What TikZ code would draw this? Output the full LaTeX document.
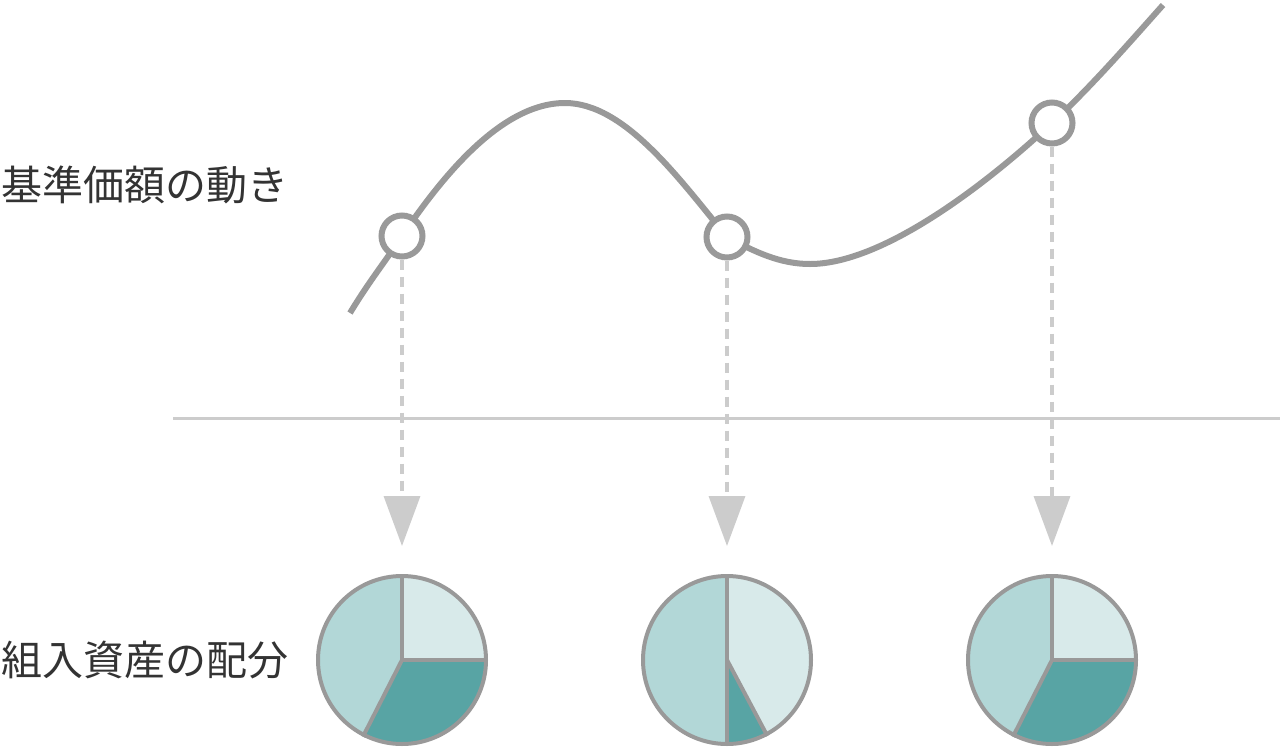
\documentclass[tikz,border=0pt]{standalone}
\usepackage{fontspec}
\newfontfamily\jpfont{Noto Sans CJK JP}
\usetikzlibrary{arrows.meta}
\definecolor{curvegray}{HTML}{999999}
\definecolor{guidegray}{HTML}{CCCCCC}
\definecolor{txtgray}{HTML}{333333}
\definecolor{pieL}{HTML}{D8EAEA}
\definecolor{pieM}{HTML}{B2D7D7}
\definecolor{pieD}{HTML}{58A4A4}
\tikzset{
  lbl/.style={anchor=west, inner sep=0pt, text=txtgray, font=\jpfont\fontsize{41}{48}\selectfont},
  curveline/.style={draw=curvegray, line width=6pt},
  marker/.style={circle, draw=curvegray, line width=6pt, fill=white, minimum size=41pt, inner sep=0pt},
  guide/.style={draw=guidegray, line width=3.5pt, dash pattern=on 10pt off 7pt,
    -{Triangle[width=36pt,length=50pt,fill=guidegray]}},
  baseline/.style={draw=guidegray, line width=3pt},
  pieborder/.style={circle, draw=curvegray, line width=4pt, minimum size=168pt, inner sep=0pt},
  piediv/.style={draw=curvegray, line width=4pt},
}
\begin{document}
\begin{tikzpicture}[x=1pt,y=-1pt]
\useasboundingbox (0,0) rectangle (1280,753);
% labels
\node[lbl] (lblA) at (1,185) {基準価額の動き};
\node[lbl] (lblB) at (1,660) {組入資産の配分};
% horizontal separator
\coordinate (hL) at (173,418);
\coordinate (hR) at (1280,418);
\draw[baseline] (hL) -- (hR);
% curve
\coordinate (k0) at (350,313);
\coordinate (k1) at (402,236);
\coordinate (kp) at (565,103);
\coordinate (k2) at (727,237);
\coordinate (kt) at (810,264);
\coordinate (k3) at (1052,123);
\coordinate (ke) at (1163,5);
\draw[curveline] (k0) .. controls (370,280) and (385,262) .. (k1)
  .. controls (440,180) and (500,103) .. (kp)
  .. controls (625,103) and (680,180) .. (k2)
  .. controls (755,252) and (780,264) .. (kt)
  .. controls (880,264) and (980,190) .. (k3)
  .. controls (1090,88) and (1130,42) .. (ke);
% markers
\node[marker] (c1) at (k1) {};
\node[marker] (c2) at (k2) {};
\node[marker] (c3) at (k3) {};
% arrows
\coordinate (a1) at (402,546);
\coordinate (a2) at (727,546);
\coordinate (a3) at (1052,546);
\draw[guide] (c1.south) -- (a1);
\draw[guide] (c2.south) -- (a2);
\draw[guide] (c3.south) -- (a3);
% pies
\coordinate (q1) at (402,660);
\coordinate (q2) at (727,660);
\coordinate (q3) at (1052,660);
% pie 1
\fill[pieL] (q1) -- ++(90:84pt) arc[start angle=90, end angle=0, radius=84pt] -- cycle;
\fill[pieD] (q1) -- ++(0:84pt) arc[start angle=0, end angle=-117.5, radius=84pt] -- cycle;
\fill[pieM] (q1) -- ++(-117.5:84pt) arc[start angle=-117.5, end angle=-270, radius=84pt] -- cycle;
\node[pieborder] (p1) at (q1) {};
\draw[piediv] (p1.90) -- (p1.center) -- (p1.0);
\draw[piediv] (p1.center) -- (p1.-117.5);
% pie 2
\fill[pieL] (q2) -- ++(90:84pt) arc[start angle=90, end angle=-62, radius=84pt] -- cycle;
\fill[pieD] (q2) -- ++(-62:84pt) arc[start angle=-62, end angle=-90, radius=84pt] -- cycle;
\fill[pieM] (q2) -- ++(-90:84pt) arc[start angle=-90, end angle=-270, radius=84pt] -- cycle;
\node[pieborder] (p2) at (q2) {};
\draw[piediv] (p2.90) -- (p2.-90);
\draw[piediv] (p2.center) -- (p2.-62);
% pie 3
\fill[pieL] (q3) -- ++(90:84pt) arc[start angle=90, end angle=0, radius=84pt] -- cycle;
\fill[pieD] (q3) -- ++(0:84pt) arc[start angle=0, end angle=-117.5, radius=84pt] -- cycle;
\fill[pieM] (q3) -- ++(-117.5:84pt) arc[start angle=-117.5, end angle=-270, radius=84pt] -- cycle;
\node[pieborder] (p3) at (q3) {};
\draw[piediv] (p3.90) -- (p3.center) -- (p3.0);
\draw[piediv] (p3.center) -- (p3.-117.5);
\end{tikzpicture}
\end{document}
